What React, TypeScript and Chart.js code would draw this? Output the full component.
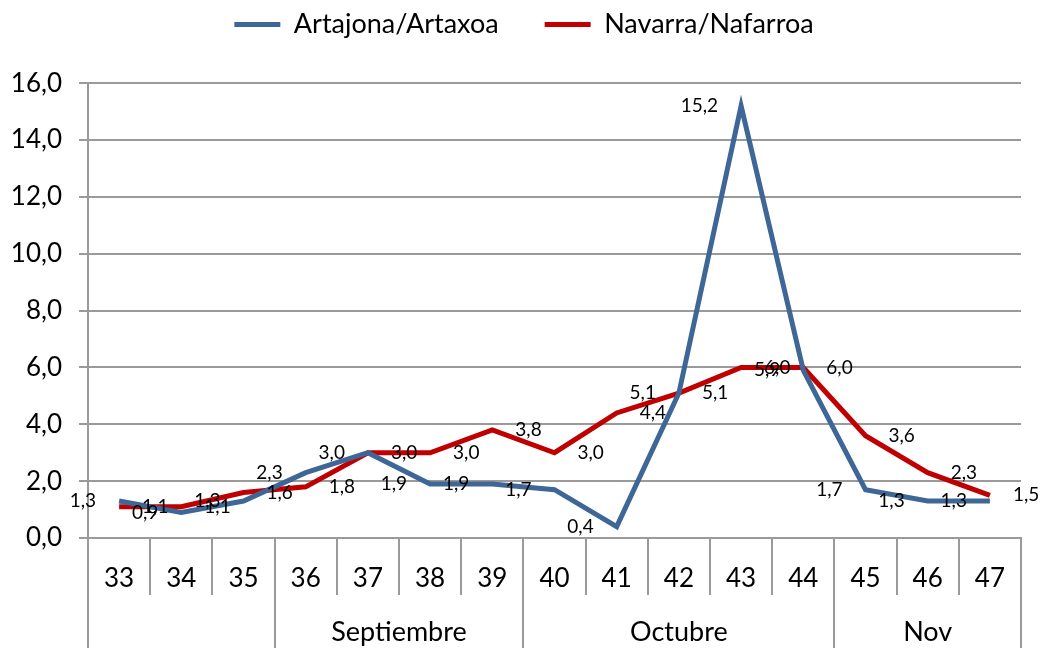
import React, { useEffect, useRef } from "react";
import { Chart, registerables } from "chart.js";

Chart.register(...registerables);

const weeks = ["33", "34", "35", "36", "37", "38", "39", "40", "41", "42", "43", "44", "45", "46", "47"];
const artajona = [1.3, 0.9, 1.3, 2.3, 3.0, 1.9, 1.9, 1.7, 0.4, 5.1, 15.2, 5.9, 1.7, 1.3, 1.3];
const navarra = [1.1, 1.1, 1.6, 1.8, 3.0, 3.0, 3.8, 3.0, 4.4, 5.1, 6.0, 6.0, 3.6, 2.3, 1.5];
const monthLabels = ["", "Septiembre", "Octubre", "Nov"];
const monthSpans = [3, 4, 5, 3];

const FONT = "Lato";
const GRID = "#9a9a9a";
const BLUE = "#3e6696";
const RED = "#c00000";

const fmt = (v: number) => v.toFixed(1).replace(".", ",");

const dataLabels = {
  id: "dataLabels",
  afterDatasetsDraw(chart: any) {
    const ctx = chart.ctx;
    ctx.save();
    ctx.font = `19px ${FONT}`;
    ctx.fillStyle = "#000";
    ctx.textBaseline = "middle";
    chart.data.datasets.forEach((ds: any, di: number) => {
      const meta = chart.getDatasetMeta(di);
      meta.data.forEach((pt: any, i: number) => {
        const v = ds.data[i];
        if (di === 0) {
          ctx.textAlign = "right";
          ctx.fillText(fmt(v), pt.x - 23, pt.y);
        } else {
          ctx.textAlign = "left";
          ctx.fillText(fmt(v), pt.x + 23, pt.y);
        }
      });
    });
    ctx.restore();
  },
};

const monthAxis = {
  id: "monthAxis",
  afterDraw(chart: any) {
    const ctx = chart.ctx;
    const x = chart.scales.x;
    const top = chart.chartArea.bottom;
    const bottom = chart.height;
    ctx.save();
    ctx.strokeStyle = GRID;
    ctx.lineWidth = 2;
    let start = 0;
    const bounds: number[] = [-0.5];
    monthSpans.forEach((s) => {
      start += s;
      bounds.push(start - 0.5);
    });
    bounds.forEach((b) => {
      const px = Math.round(x.getPixelForValue(b));
      ctx.beginPath();
      ctx.moveTo(px, top);
      ctx.lineTo(px, bottom);
      ctx.stroke();
    });
    ctx.font = `27px ${FONT}`;
    ctx.fillStyle = "#000";
    ctx.textAlign = "center";
    ctx.textBaseline = "middle";
    monthLabels.forEach((m, i) => {
      if (!m) return;
      const cx = (x.getPixelForValue(bounds[i]) + x.getPixelForValue(bounds[i + 1])) / 2;
      ctx.fillText(m, cx, 632);
    });
    ctx.restore();
  },
};

export default function App() {
  const ref = useRef<HTMLCanvasElement | null>(null);
  useEffect(() => {
    if (!ref.current) return;
    const chart = new Chart(ref.current, {
      type: "line",
      data: {
        labels: weeks,
        datasets: [
          {
            label: "Artajona/Artaxoa",
            data: artajona,
            borderColor: BLUE,
            backgroundColor: BLUE,
            borderWidth: 5,
            pointRadius: 0,
            tension: 0,
          },
          {
            label: "Navarra/Nafarroa",
            data: navarra,
            borderColor: RED,
            backgroundColor: RED,
            borderWidth: 5,
            pointRadius: 0,
            tension: 0,
          },
        ],
      },
      options: {
        animation: false,
        responsive: true,
        maintainAspectRatio: false,
        layout: { padding: { top: -35, left: 7, right: 0, bottom: 0 } },
        plugins: {
          tooltip: { enabled: false },
          subtitle: {
            display: true,
            text: "",
            weight: 500,
            font: { size: 1 },
            padding: { top: 34, bottom: 0 },
          },
          legend: {
            position: "top",
            labels: {
              font: { family: FONT, size: 27 },
              color: "#000",
              boxWidth: 46,
              boxHeight: 5,
              padding: 46,
              generateLabels(chart: any) {
                return chart.data.datasets.map((ds: any, i: number) => ({
                  text: ds.label,
                  fillStyle: ds.borderColor,
                  strokeStyle: ds.borderColor,
                  lineWidth: 0,
                  datasetIndex: i,
                  hidden: false,
                  fontColor: "#000",
                }));
              },
            },
          },
        },
        scales: {
          x: {
            offset: true,
            grid: {
              offset: true,
              drawOnChartArea: false,
              drawTicks: true,
              tickLength: 57,
              color: GRID,
              lineWidth: 2,
            },
            border: { display: true, color: GRID, width: 2 },
            ticks: {
              font: { family: FONT, size: 26 },
              color: "#000",
              padding: -32,
              maxRotation: 0,
              autoSkip: false,
            },
            afterFit(scale: any) {
              scale.height = 110;
            },
          },
          y: {
            min: 0,
            max: 16,
            ticks: {
              stepSize: 2,
              font: { family: FONT, size: 26 },
              color: "#000",
              padding: 17,
              callback: (v: any) => fmt(Number(v)),
            },
            grid: { color: GRID, lineWidth: 2, tickLength: 9 },
            border: { display: true, color: GRID, width: 2 },
            afterFit(scale: any) {
              scale.width = 81;
            },
          },
          yRight: {
            type: "linear",
            position: "right",
            display: true,
            min: 0,
            max: 16,
            grid: { display: false, drawTicks: false },
            border: { display: false },
            ticks: { display: false },
            afterFit(scale: any) {
              scale.width = 20;
            },
          },
        },
      },
      plugins: [dataLabels, monthAxis],
    });
    return () => chart.destroy();
  }, []);
  return (
    <div style={{ position: "absolute", left: 0, top: 0, width: 1041, height: 648 }}>
      <canvas ref={ref} />
    </div>
  );
}
